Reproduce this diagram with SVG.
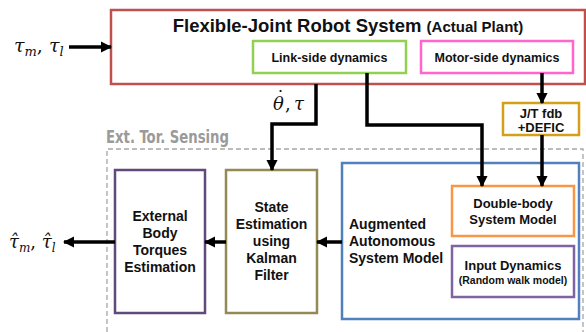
<svg xmlns="http://www.w3.org/2000/svg" width="586" height="332" viewBox="0 0 586 332">
  <style>
    .box { fill: #ffffff; stroke-width: 2.5; }
    .lbl { font-family: "Liberation Sans", Arial, sans-serif; font-weight: bold; fill: #111111; text-anchor: middle; }
    .lft { text-anchor: start; }
    .math { font-family: "DejaVu Serif", "Liberation Serif", serif; font-style: italic; fill: #111111; }
    .up { font-style: normal; }
    .wire { fill: none; stroke: #000000; stroke-width: 3.5; }
  </style>
  <defs>
    <marker id="head" viewBox="0 0 10 10" refX="9" refY="5" markerWidth="3.2" markerHeight="3.6" orient="auto" markerUnits="strokeWidth">
      <path d="M0,0 L10,5 L0,10 Z" fill="#000000"/>
    </marker>
  </defs>

  <rect width="586" height="332" fill="#ffffff"/>

  <!-- sensing region -->
  <g id="sensing">
    <path d="M107,340 L107,149 L583,149 L583,340" fill="none" stroke="#a6a6a6" stroke-width="1.3" stroke-dasharray="5,3"/>
    <text x="106" y="143" font-family="'DejaVu Sans Condensed', 'DejaVu Sans', sans-serif" font-weight="bold" font-size="17" fill="#9a9a9a" textLength="123" lengthAdjust="spacingAndGlyphs">Ext. Tor. Sensing</text>
  </g>

  <!-- plant -->
  <g id="plant">
    <rect class="box" x="111" y="10" width="474" height="74" stroke="#c0504d"/>
    <text class="lbl" x="348" y="32" font-size="18.5">Flexible-Joint Robot System <tspan font-size="15">(Actual Plant)</tspan></text>
  </g>
  <g id="link-side">
    <rect class="box" x="253" y="41" width="153" height="32" stroke="#92d050"/>
    <text class="lbl" x="329.5" y="62" font-size="12.5">Link-side dynamics</text>
  </g>
  <g id="motor-side">
    <rect class="box" x="421" y="41" width="152" height="32" stroke="#ff66cc"/>
    <text class="lbl" x="497" y="62" font-size="12.5">Motor-side dynamics</text>
  </g>
  <g id="jt-fdb">
    <rect class="box" x="503" y="103" width="76" height="32" stroke="#d4a017"/>
    <text class="lbl" x="541" y="118" font-size="13">J/T fdb</text>
    <text class="lbl" x="541" y="132" font-size="13">+DEFIC</text>
  </g>

  <!-- estimator blocks -->
  <g id="ext-torques">
    <rect class="box" x="115" y="170" width="90" height="143" stroke="#604a7b"/>
    <text class="lbl" x="160" y="221" font-size="14">External</text>
    <text class="lbl" x="160" y="238" font-size="14">Body</text>
    <text class="lbl" x="160" y="255" font-size="14">Torques</text>
    <text class="lbl" x="160" y="272" font-size="14">Estimation</text>
  </g>
  <g id="state-est">
    <rect class="box" x="226" y="170" width="91" height="143" stroke="#948a54"/>
    <text class="lbl" x="271.5" y="212" font-size="14">State</text>
    <text class="lbl" x="271.5" y="229" font-size="14">Estimation</text>
    <text class="lbl" x="271.5" y="246" font-size="14">using</text>
    <text class="lbl" x="271.5" y="263" font-size="14">Kalman</text>
    <text class="lbl" x="271.5" y="280" font-size="14">Filter</text>
  </g>
  <g id="augmented">
    <rect class="box" x="342" y="163" width="237" height="156" stroke="#4f81bd"/>
    <text class="lbl lft" x="349" y="229" font-size="14">Augmented</text>
    <text class="lbl lft" x="349" y="246" font-size="14">Autonomous</text>
    <text class="lbl lft" x="349" y="263" font-size="14">System Model</text>
  </g>
  <g id="double-body">
    <rect class="box" x="452" y="186" width="122" height="50" stroke="#f79646"/>
    <text class="lbl" x="513" y="208" font-size="13">Double-body</text>
    <text class="lbl" x="513" y="224" font-size="13">System Model</text>
  </g>
  <g id="input-dyn">
    <rect class="box" x="452" y="246" width="122" height="51" stroke="#8064a2"/>
    <text class="lbl" x="513" y="270" font-size="13">Input Dynamics</text>
    <text class="lbl" x="513" y="284" font-size="10.5">(Random walk model)</text>
  </g>

  <!-- connectors -->
  <g id="connectors">
    <path class="wire" d="M69,47 L111,47" marker-end="url(#head)"/>
    <path class="wire" d="M542,73 L542,103" marker-end="url(#head)"/>
    <path class="wire" d="M542,135 L542,186" marker-end="url(#head)"/>
    <path class="wire" d="M367,73 L367,125 L482,125 L482,186" marker-end="url(#head)"/>
    <path class="wire" d="M316,84 L316,124 L272,124 L272,170" marker-end="url(#head)"/>
    <path class="wire" d="M342,242 L317,242" marker-end="url(#head)"/>
    <path class="wire" d="M226,242 L205,242" marker-end="url(#head)"/>
    <path class="wire" d="M115,242 L64,242" marker-end="url(#head)"/>
  </g>

  <!-- signal labels -->
  <g id="signals">
    <text class="math" x="14" y="52" font-size="19">τ<tspan font-size="13" dy="4">m</tspan><tspan dy="-4" class="up">, </tspan><tspan>τ</tspan><tspan font-size="13" dy="4">l</tspan></text>

    <!-- theta with a separately placed dot accent -->
    <text class="math" font-size="18"><tspan x="273" y="110">θ</tspan><tspan class="up" x="276" y="104">˙</tspan><tspan class="up" x="285" y="110">,</tspan><tspan x="294" y="110">τ</tspan></text>

    <text class="math" x="9" y="248" font-size="18">τ̂<tspan font-size="12" dy="4">m</tspan><tspan dy="-4" class="up">, </tspan><tspan>τ̂</tspan><tspan font-size="12" dy="4">l</tspan></text>
  </g>
</svg>
